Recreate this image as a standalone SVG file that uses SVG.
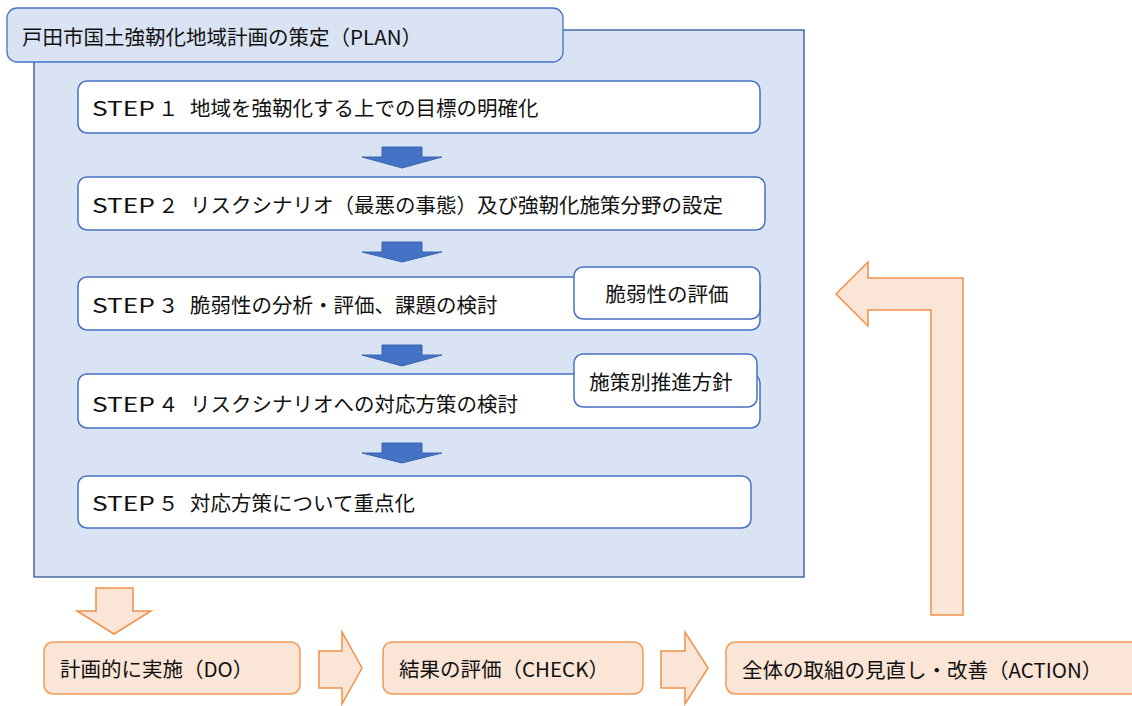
<svg xmlns="http://www.w3.org/2000/svg" width="1132" height="706" viewBox="0 0 1132 706">
<style>
text{font-family:"Noto Sans CJK JP","Noto Sans",sans-serif;font-size:20.5px;fill:#111;dominant-baseline:central}
.panel{fill:#DAE3F3;stroke:#2F5597;stroke-width:1.3}
.hdr{fill:#DAE3F3;stroke:#4472C4;stroke-width:1.3}
.step{fill:#fff;stroke:#4472C4;stroke-width:1.5}
.barr{fill:#4472C4;stroke:#3A66B0;stroke-width:1}
.obox{fill:#FBE5D6;stroke:#F09A55;stroke-width:1.5}
.oarr{fill:#FBE5D6;stroke:#F0914A;stroke-width:1.5}
</style>
<rect width="1132" height="706" fill="#fff"/>
<g id="plan">
<rect class="panel" x="34" y="30" width="770" height="547"/>
<rect class="hdr" x="7" y="8" width="556" height="54" rx="10"/>
<text x="22" y="36">戸田市国土強靭化地域計画の策定（PLAN）</text>
</g>
<g id="step1"><rect class="step" x="78" y="81" width="682" height="52" rx="9"/><text y="107"><tspan x="92" textLength="63" lengthAdjust="spacingAndGlyphs">STEP</tspan><tspan x="158">１</tspan><tspan x="190">地域を強靭化する上での目標の明確化</tspan></text></g>
<g id="step2"><rect class="step" x="78" y="177" width="687" height="53" rx="9"/><text y="204"><tspan x="92" textLength="63" lengthAdjust="spacingAndGlyphs">STEP</tspan><tspan x="158">２</tspan><tspan x="190">リスクシナリオ（最悪の事態）及び強靭化施策分野の設定</tspan></text></g>
<g id="step3"><rect class="step" x="78" y="277" width="682" height="53" rx="9"/><text y="304"><tspan x="92" textLength="63" lengthAdjust="spacingAndGlyphs">STEP</tspan><tspan x="158">３</tspan><tspan x="190">脆弱性の分析・評価、課題の検討</tspan></text></g>
<g id="step4"><rect class="step" x="78" y="374" width="682" height="54" rx="9"/><text y="403"><tspan x="92" textLength="63" lengthAdjust="spacingAndGlyphs">STEP</tspan><tspan x="158">４</tspan><tspan x="190">リスクシナリオへの対応方策の検討</tspan></text></g>
<g id="step5"><rect class="step" x="78" y="476" width="673" height="52" rx="9"/><text y="502"><tspan x="92" textLength="63" lengthAdjust="spacingAndGlyphs">STEP</tspan><tspan x="158">５</tspan><tspan x="190">対応方策について重点化</tspan></text></g>
<g id="sub1"><rect class="step" x="574" y="267" width="186" height="52" rx="9"/><text x="667" y="293" text-anchor="middle">脆弱性の評価</text></g>
<g id="sub2"><rect class="step" x="574" y="354" width="183" height="53" rx="9"/><text x="661" y="381" text-anchor="middle">施策別推進方針</text></g>
<g id="do"><rect class="obox" x="44" y="642" width="256" height="52" rx="9"/><text x="60" y="668">計画的に実施（DO）</text></g>
<g id="check"><rect class="obox" x="383" y="642" width="260" height="52" rx="9"/><text x="399" y="668">結果の評価（CHECK）</text></g>
<g id="action"><rect class="obox" x="726" y="642" width="420" height="52" rx="9"/><text x="742" y="669">全体の取組の見直し・改善（ACTION）</text></g>
<g id="connectors">
<polygon class="barr" points="382,147 422,147 422,157 442,157 402,168 362,157 382,157"/>
<polygon class="barr" points="382,242 422,242 422,252 442,252 402,262 362,252 382,252"/>
<polygon class="barr" points="382,345 422,345 422,355 442,355 402,366 362,355 382,355"/>
<polygon class="barr" points="382,443 422,443 422,453 442,453 402,463 362,453 382,453"/>
<polygon class="oarr" points="96,588 133,588 133,611 151,611 114,634 77,611 96,611"/>
<polygon class="oarr" points="319,651 342,651 342,632 362,668 342,704 342,688 319,688"/>
<polygon class="oarr" points="661,651 685,651 685,632 708,668 685,704 685,688 661,688"/>
<polygon class="oarr" points="931,615 963,615 963,278 868,278 868,262 836,294 868,326 868,310 931,310"/>
</g>
</svg>
